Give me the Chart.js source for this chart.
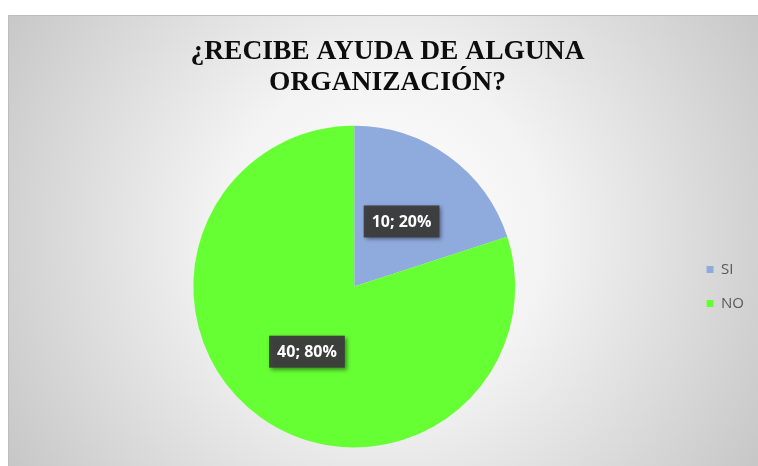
<!DOCTYPE html>
<html lang="es">
<head>
    <meta charset="UTF-8">
    <title>¿Recibe ayuda de alguna organización?</title>
    <script src="https://cdn.jsdelivr.net/npm/chart.js"></script>
    <style>
        html, body {
            margin: 0;
            padding: 0;
            background: #ffffff;
        }
        #wrap {
            width: 758px;
            height: 466px;
            position: relative;
        }
    </style>
</head>
<body>
    <div id="wrap">
        <canvas id="ayudaChart"></canvas>
    </div>

    <script>
        // datos
        const categorias = ['SI', 'NO'];
        const respuestas = [10, 40];
        const titulo = ['¿RECIBE AYUDA DE ALGUNA', 'ORGANIZACIÓN?'];

        // fondo gris con degradado (como el de Excel)
        const fondoPlugin = {
            id: 'fondo',
            beforeDraw(chart) {
                const ctx = chart.ctx;
                const w = chart.width, h = chart.height;
                ctx.save();
                ctx.fillStyle = '#ffffff';
                ctx.fillRect(0, 0, w, h);
                const g = ctx.createRadialGradient(383, 235, 0, 383, 235, 470);
                g.addColorStop(0, '#ffffff');
                g.addColorStop(0.35, '#f3f3f3');
                g.addColorStop(1, '#c2c2c2');
                ctx.fillStyle = g;
                ctx.fillRect(8, 15, w - 8, h - 15);
                ctx.strokeStyle = '#bdbdbd';
                ctx.lineWidth = 1;
                ctx.beginPath();
                ctx.moveTo(8.5, h);
                ctx.lineTo(8.5, 15.5);
                ctx.lineTo(w, 15.5);
                ctx.stroke();
                ctx.restore();
            }
        };

        // etiquetas "valor; porcentaje" en cajas oscuras
        const etiquetasPlugin = {
            id: 'etiquetas',
            afterDatasetsDraw(chart) {
                const ctx = chart.ctx;
                const meta = chart.getDatasetMeta(0);
                const data = chart.data.datasets[0].data;
                const total = data.reduce((a, b) => a + b, 0);
                ctx.save();
                ctx.font = 'bold 16px "Open Sans"';
                ctx.textAlign = 'center';
                ctx.textBaseline = 'middle';
                meta.data.forEach((arc, i) => {
                    const pos = arc.tooltipPosition();
                    const txt = data[i] + '; ' + Math.round(data[i] / total * 100) + '%';
                    const tw = ctx.measureText(txt).width;
                    const bw = tw + 16, bh = 32;
                    ctx.shadowColor = 'rgba(0,0,0,0.45)';
                    ctx.shadowBlur = 4;
                    ctx.shadowOffsetX = 2;
                    ctx.shadowOffsetY = 2;
                    ctx.fillStyle = 'rgba(60,60,60,0.96)';
                    ctx.fillRect(pos.x - bw / 2, pos.y - bh / 2, bw, bh);
                    ctx.shadowColor = 'transparent';
                    ctx.fillStyle = '#ffffff';
                    ctx.fillText(txt, pos.x, pos.y + 1);
                });
                ctx.restore();
            }
        };

        const ctx = document.getElementById('ayudaChart').getContext('2d');
        new Chart(ctx, {
            type: 'pie',
            data: {
                labels: categorias,
                datasets: [{
                    data: respuestas,
                    backgroundColor: ['#8faadc', '#66ff33'],
                    borderWidth: 0
                }]
            },
            options: {
                responsive: true,
                maintainAspectRatio: false,
                animation: false,
                layout: {
                    padding: { top: 15, bottom: 18.5, left: 21, right: 4 }
                },
                plugins: {
                    title: {
                        display: true,
                        text: titulo,
                        color: '#0d0d0d',
                        font: { family: '"Liberation Serif", "Times New Roman", serif', size: 27.5, weight: 'bold', lineHeight: 1.13 },
                        padding: { top: 21.5, bottom: 27 }
                    },
                    legend: {
                        position: 'right',
                        fullSize: false,
                        labels: {
                            boxWidth: 7,
                            boxHeight: 7,
                            padding: 19,
                            color: '#595959',
                            font: { family: '"Open Sans", sans-serif', size: 15 }
                        }
                    },
                    tooltip: { enabled: false }
                }
            },
            plugins: [fondoPlugin, etiquetasPlugin]
        });
    </script>
</body>
</html>
